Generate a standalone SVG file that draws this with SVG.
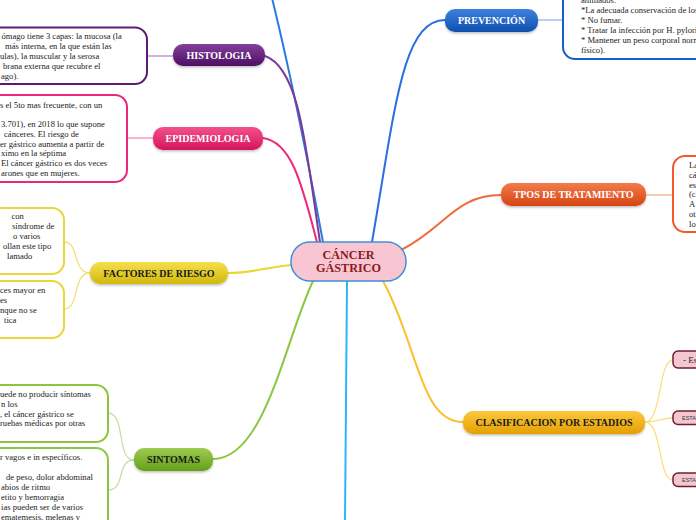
<svg xmlns="http://www.w3.org/2000/svg" width="696" height="520" viewBox="0 0 696 520">
<defs>
<linearGradient id="gHis" x1="0" y1="0" x2="0" y2="1"><stop offset="0" stop-color="#84409c"/><stop offset="1" stop-color="#4c0f62"/></linearGradient>
<linearGradient id="gEpi" x1="0" y1="0" x2="0" y2="1"><stop offset="0" stop-color="#f2528c"/><stop offset="1" stop-color="#d6155c"/></linearGradient>
<linearGradient id="gFac" x1="0" y1="0" x2="0" y2="1"><stop offset="0" stop-color="#f4e04c"/><stop offset="1" stop-color="#d2b80c"/></linearGradient>
<linearGradient id="gSin" x1="0" y1="0" x2="0" y2="1"><stop offset="0" stop-color="#9dcc52"/><stop offset="1" stop-color="#64a017"/></linearGradient>
<linearGradient id="gPre" x1="0" y1="0" x2="0" y2="1"><stop offset="0" stop-color="#3e80e0"/><stop offset="1" stop-color="#0f4fae"/></linearGradient>
<linearGradient id="gTra" x1="0" y1="0" x2="0" y2="1"><stop offset="0" stop-color="#f47b4a"/><stop offset="1" stop-color="#d64414"/></linearGradient>
<linearGradient id="gCla" x1="0" y1="0" x2="0" y2="1"><stop offset="0" stop-color="#fcc83c"/><stop offset="1" stop-color="#e4a002"/></linearGradient>
<filter id="sh" x="-10%" y="-30%" width="120%" height="170%"><feDropShadow dx="0" dy="1.5" stdDeviation="1.2" flood-color="#000" flood-opacity="0.25"/></filter>
</defs>
<style>
.lbl{font-family:"Liberation Serif","Times New Roman",serif;font-weight:bold;font-size:10px;text-anchor:middle}
.w{fill:#ffffff}
.k{fill:#1a1a1a}
.t{font-family:"Liberation Serif","Times New Roman",serif;font-size:8.6px;fill:#222}
.box{fill:#ffffff;stroke-width:2}
.main{fill:none;stroke-width:2;stroke-linecap:round}
.sub{fill:none;stroke-width:1.3}
.sm{fill:#f2c7d0;stroke:#6d1f2e;stroke-width:1.5}
</style>
<rect width="696" height="520" fill="#ffffff"/>

<g id="connectors">
<path class="main" stroke="#2a7ae2" d="M323,242 C306,150 286,55 272,-2"/>
<path class="main" stroke="#7b3a98" d="M320,242 C306,150 300,68 265,56"/>
<path class="main" stroke="#f0287a" d="M317,242 C302,185 292,142 263,138"/>
<path class="main" stroke="#2a6fe0" d="M372,242 C395,110 402,20 445,20"/>
<path class="main" stroke="#f06a3a" d="M401,250 C445,228 455,195 501,195"/>
<path class="main" stroke="#fbc02d" d="M383,281 C418,345 420,422 463,422"/>
<path class="main" stroke="#29b6f6" d="M347,281 C346,360 345,440 345,522"/>
<path class="main" stroke="#8cc63f" d="M313,281 C285,340 265,459 213,459"/>
<path class="main" stroke="#e8d830" d="M291,265 C262,268 252,273 228,273"/>

<path class="sub" stroke="#b58ac4" d="M147,56 L173,56"/>
<path class="sub" stroke="#f58bb4" d="M127,138 L153,138"/>
<path class="sub" stroke="#f0e27a" d="M90,273 C72,273 80,242 64,242"/>
<path class="sub" stroke="#f0e27a" d="M90,273 C72,273 80,309 64,309"/>
<path class="sub" stroke="#c5e1a5" d="M134,460 C116,460 126,413 108,413"/>
<path class="sub" stroke="#c5e1a5" d="M134,460 C116,460 126,490 108,490"/>
<path class="sub" stroke="#8fb8ee" d="M538,20 L563,20"/>
<path class="sub" stroke="#f8ad8c" d="M646,195 L673,195"/>
<path class="sub" stroke="#ffdd80" d="M645,422 C662,422 658,360 673,360"/>
<path class="sub" stroke="#ffdd80" d="M645,422 C660,422 660,418 673,418"/>
<path class="sub" stroke="#ffdd80" d="M645,422 C662,422 658,480 673,480"/>
</g>

<g id="center">
<rect x="291" y="242" width="115" height="39" rx="19" fill="#f8c6d3" stroke="#3f8fd8" stroke-width="1.5"/>
<text class="lbl" style="font-size:12.2px;fill:#8b1a1a" x="348.5" y="258.5">CÁNCER</text>
<text class="lbl" style="font-size:12.2px;fill:#8b1a1a" x="348.5" y="271.5">GÁSTRICO</text>
</g>

<g id="histologia">
<rect x="173" y="44" width="92" height="22" rx="10" fill="url(#gHis)" filter="url(#sh)"/>
<text class="lbl w" x="219" y="58.5">HISTOLOGIA</text>
</g>
<g id="histologia-text">
<rect class="box" stroke="#5e1a78" x="-20" y="27.5" width="167" height="56.5" rx="12"/>
<text class="t" x="1.5" y="39">ómago tiene 3 capas: la mucosa (la</text>
<text class="t" x="5" y="49">más interna, en la que están las</text>
<text class="t" x="0" y="59">ulas), la muscular y la serosa</text>
<text class="t" x="3" y="69">brana externa que recubre el</text>
<text class="t" x="1" y="79">ago).</text>
</g>

<g id="epidemiologia">
<rect x="153" y="127" width="110" height="23" rx="10" fill="url(#gEpi)" filter="url(#sh)"/>
<text class="lbl w" x="208" y="142">EPIDEMIOLOGIA</text>
</g>
<g id="epidemiologia-text">
<rect class="box" stroke="#e8287a" x="-20" y="95" width="147" height="87" rx="12"/>
<text class="t" x="0" y="107.5">s el 5to mas frecuente, con un</text>
<text class="t" x="1" y="127">3.701), en 2018 lo que supone</text>
<text class="t" x="4" y="136.8">cánceres. El riesgo de</text>
<text class="t" x="0" y="146.6">er gástrico aumenta a partir de</text>
<text class="t" x="1" y="156.4">ximo en la séptima</text>
<text class="t" x="1" y="166.2">El cáncer gástrico es dos veces</text>
<text class="t" x="1" y="176">arones que en mujeres.</text>
</g>

<g id="factores">
<rect x="90" y="262" width="138" height="22" rx="10" fill="url(#gFac)" filter="url(#sh)"/>
<text class="lbl k" x="159" y="276.5">FACTORES DE RIESGO</text>
</g>
<g id="factores-text-1">
<rect class="box" stroke="#e8d63a" x="-20" y="208" width="84" height="66" rx="12"/>
<text class="t" x="11.5" y="219">con</text>
<text class="t" x="12" y="229">síndrome de</text>
<text class="t" x="13" y="239">o varios</text>
<text class="t" x="3" y="249">ollan este tipo</text>
<text class="t" x="7" y="259">lamado</text>
</g>
<g id="factores-text-2">
<rect class="box" stroke="#e8d63a" x="-20" y="281" width="84" height="57" rx="12"/>
<text class="t" x="0" y="292.5">ces mayor en</text>
<text class="t" x="0" y="302.5">es</text>
<text class="t" x="0" y="312.5">nque no se</text>
<text class="t" x="4" y="322.5">tica</text>
</g>

<g id="sintomas">
<rect x="134" y="448" width="79" height="23" rx="10" fill="url(#gSin)" filter="url(#sh)"/>
<text class="lbl k" x="173.5" y="463">SINTOMAS</text>
</g>
<g id="sintomas-text-1">
<rect class="box" stroke="#8cc63f" x="-20" y="385" width="128" height="57" rx="12"/>
<text class="t" x="0" y="397">uede no producir síntomas</text>
<text class="t" x="1" y="406.7">n los</text>
<text class="t" x="0" y="416.5">, el cáncer gástrico se</text>
<text class="t" x="0" y="426.3">ruebas médicas por otras</text>
</g>
<g id="sintomas-text-2">
<rect class="box" stroke="#8cc63f" x="-20" y="448" width="128" height="100" rx="12"/>
<text class="t" x="0" y="460">r vagos e in específicos.</text>
<text class="t" x="6" y="480">de peso, dolor abdominal</text>
<text class="t" x="1" y="490">abios de ritmo</text>
<text class="t" x="1" y="500">etito y hemorragia</text>
<text class="t" x="1" y="510">ias pueden ser de varios</text>
<text class="t" x="1" y="520">ematemesis, melenas y</text>
</g>

<g id="prevencion">
<rect x="445" y="9" width="93" height="23" rx="10" fill="url(#gPre)" filter="url(#sh)"/>
<text class="lbl w" x="491.5" y="24">PREVENCIÓN</text>
</g>
<g id="prevencion-text">
<rect class="box" stroke="#1a5fc8" x="563" y="-40" width="160" height="99" rx="12"/>
<text class="t" x="581" y="3">animados.</text>
<text class="t" x="581" y="13">*La adecuada conservación de los</text>
<text class="t" x="581" y="23">* No fumar.</text>
<text class="t" x="581" y="33">* Tratar la infección por H. pylori.</text>
<text class="t" x="581" y="43">* Mantener un peso corporal norm</text>
<text class="t" x="581" y="53">físico).</text>
</g>

<g id="tratamiento">
<rect x="501" y="183" width="145" height="23" rx="10" fill="url(#gTra)" filter="url(#sh)"/>
<text class="lbl w" x="573.5" y="198">TPOS DE TRATAMIENTO</text>
</g>
<g id="tratamiento-text">
<rect class="box" stroke="#f4592a" x="673" y="156" width="60" height="76" rx="12"/>
<text class="t" x="689" y="168">La</text>
<text class="t" x="689" y="177.8">cá</text>
<text class="t" x="689" y="187.6">es</text>
<text class="t" x="689" y="197.4">(c</text>
<text class="t" x="689" y="207.2">A</text>
<text class="t" x="689" y="217">ot</text>
<text class="t" x="689" y="226.8">lo</text>
</g>

<g id="clasificacion">
<rect x="463" y="411" width="182" height="23" rx="10" fill="url(#gCla)" filter="url(#sh)"/>
<text class="lbl k" x="554" y="426">CLASIFICACION POR ESTADIOS</text>
</g>
<g id="estadio-1">
<rect class="sm" x="673" y="351" width="40" height="17" rx="5"/>
<text class="t" x="683" y="362.5" style="font-size:9px">- Es</text>
</g>
<g id="estadio-2">
<rect class="sm" x="673" y="411" width="40" height="13.5" rx="5"/>
<text x="682" y="419.8" style="font-family:'Liberation Sans',Arial,sans-serif;font-size:5.5px;fill:#333">ESTA</text>
</g>
<g id="estadio-3">
<rect class="sm" x="673" y="473" width="40" height="13.5" rx="5"/>
<text x="682" y="481.8" style="font-family:'Liberation Sans',Arial,sans-serif;font-size:5.5px;fill:#333">ESTA</text>
</g>
</svg>
